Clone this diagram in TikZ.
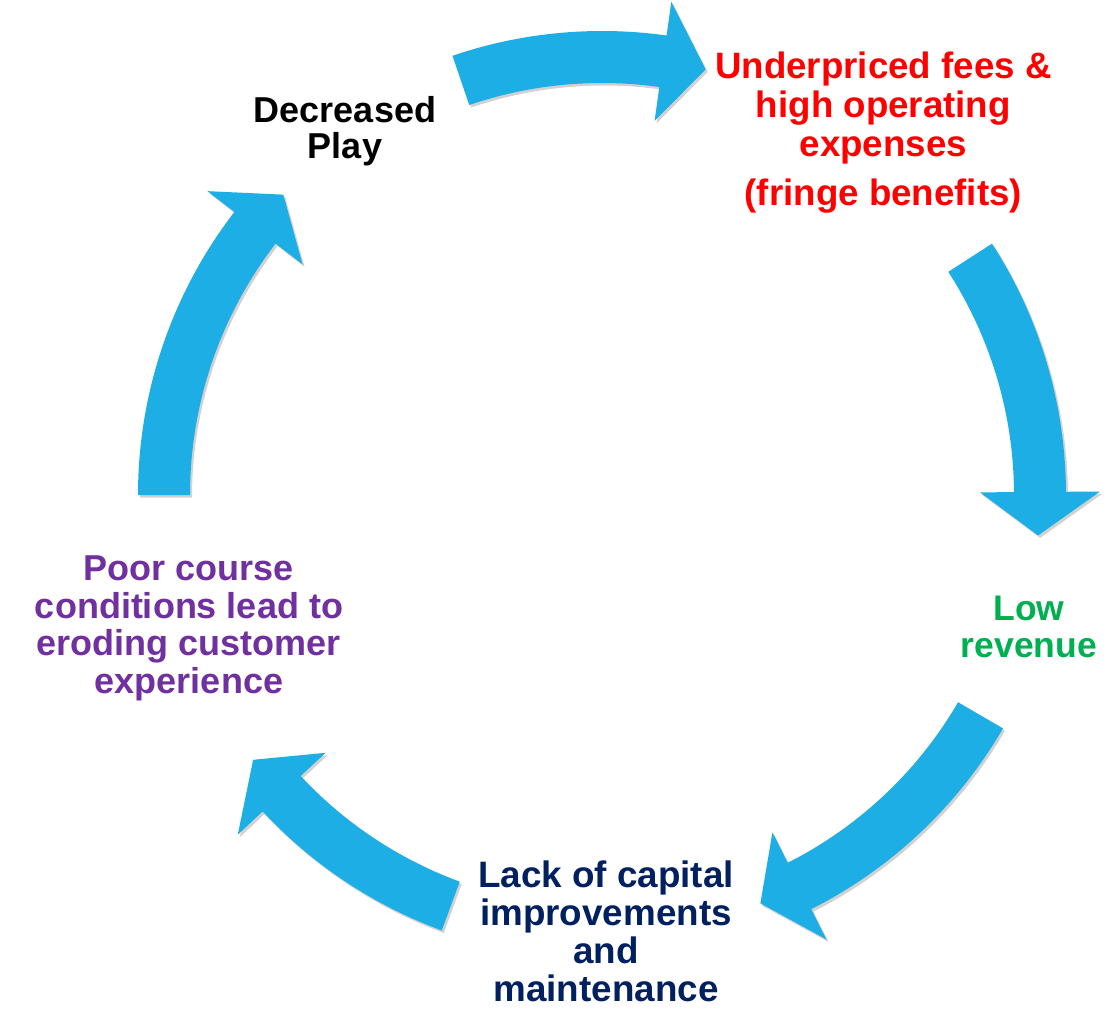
\documentclass[tikz,border=0pt]{standalone}
\usepackage{fontspec}
\setmainfont{Liberation Sans}
\usetikzlibrary{shadows}
\definecolor{arrowblue}{RGB}{28,174,228}
\definecolor{txtred}{RGB}{255,0,0}
\definecolor{txtgreen}{RGB}{0,176,80}
\definecolor{txtnavy}{RGB}{0,32,96}
\definecolor{txtpurple}{RGB}{112,48,160}
\newcommand\cycarrow[3]{%
  \fill[cycarrowstyle] (#1:464) arc[start angle=#1,end angle=#2,radius=464]
    -- (#2:498) -- (#3:438) -- (#2:378) -- (#2:412)
    arc[start angle=#2,end angle=#1,radius=412] -- cycle;}
\begin{document}
\begin{tikzpicture}[x=1pt,y=1pt,
  cycarrowstyle/.style={fill=arrowblue,
    drop shadow={shadow xshift=2pt,shadow yshift=-2.5pt,opacity=0.18,fill=black}},
  lbl/.style={align=center,inner sep=0pt,anchor=base}]
\fill[white] (0,0) rectangle (1115,-1016);
\useasboundingbox (0,0) rectangle (1115,-1016);

\begin{scope}[shift={(602,-495)}]
  \cycarrow{108.8}{82.0}{76.3}
  \cycarrow{32.8}{0.4}{-5.3}
  \cycarrow{-30.2}{-63.2}{-68.8}
  \cycarrow{-110.2}{-137.0}{-142.8}
  \cycarrow{180}{142.4}{136.7}
\end{scope}

% base anchor = baseline of the last line
\node[lbl,font=\bfseries\fontsize{36}{36.5}\selectfont] (dec) at (345,-159) {Decreased\\Play};
\node[lbl,text=txtred,font=\bfseries\fontsize{36.7}{39.2}\selectfont] (under) at (883.4,-205.7)
  {Underpriced fees \&\\high operating\\expenses\\[9.8pt](fringe benefits)};
\node[lbl,text=txtgreen,font=\bfseries\fontsize{35.5}{37}\selectfont] (low) at (1029,-657) {Low\\revenue};
\node[lbl,text=txtnavy,font=\bfseries\fontsize{36.8}{38.1}\selectfont] (lack) at (606,-1001.7)
  {Lack of capital\\improvements\\and\\maintenance};
\node[lbl,text=txtpurple,font=\bfseries\fontsize{36}{37.5}\selectfont] (poor) at (189,-693.3)
  {Poor course\\conditions lead to\\eroding customer\\experience};
\end{tikzpicture}
\end{document}
